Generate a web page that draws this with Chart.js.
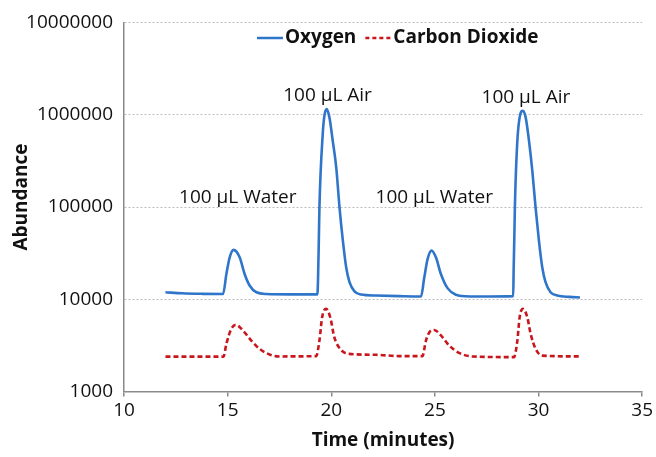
<!DOCTYPE html>
<html>
<head>
<meta charset="utf-8">
<script src="https://cdn.jsdelivr.net/npm/chart.js@4/dist/chart.umd.min.js"></script>
<style>
  html, body { margin: 0; padding: 0; background: #ffffff; }
  #wrap { width: 656px; height: 457px; }
</style>
</head>
<body>
<div id="wrap"><canvas id="c" width="656" height="457"></canvas></div>
<script>
// ---- Data ----
const oxygenTime = [12.0, 12.8, 13.8, 14.78, 14.94, 15.10, 15.29, 15.58, 15.82, 16.06, 16.39, 16.87, 18.0, 19.33, 19.36, 19.40, 19.43, 19.59, 19.67, 19.78, 19.91, 20.07, 20.24, 20.40, 20.56, 20.72, 20.88, 21.12, 21.44, 22.16, 23.28, 24.33, 24.49, 24.65, 24.84, 25.05, 25.29, 25.61, 26.01, 26.49, 27.6, 28.78, 28.80, 28.83, 28.86, 28.97, 29.09, 29.25, 29.38, 29.54, 29.70, 29.86, 30.02, 30.18, 30.34, 30.58, 30.90, 31.5, 32.0];
const oxygenAbundance = [11900, 11600, 11450, 11400, 18800, 28500, 34300, 28500, 18800, 14100, 11900, 11400, 11300, 11300, 15900, 43000, 100000, 624000, 977000, 1150000, 937000, 525000, 269000, 98000, 43200, 22200, 15300, 12200, 11250, 10970, 10800, 10700, 17300, 27400, 33700, 28500, 18800, 13200, 11200, 10780, 10700, 10800, 20600, 43000, 100000, 483000, 937000, 1107000, 937000, 525000, 248000, 98000, 43200, 22200, 15300, 11900, 11000, 10600, 10450];

const co2Time = [12.0, 13.5, 14.80, 14.94, 15.18, 15.39, 15.74, 16.14, 16.54, 17.02, 17.5, 19.27, 19.43, 19.56, 19.75, 19.95, 20.15, 20.47, 20.87, 22.16, 23.28, 24.40, 24.57, 24.81, 24.97, 25.29, 25.69, 26.17, 26.81, 28.82, 28.98, 29.09, 29.25, 29.46, 29.62, 29.86, 30.18, 32.0];
const co2Abundance = [2390, 2390, 2390, 3290, 4780, 5280, 4580, 3570, 2900, 2520, 2400, 2420, 3570, 6380, 7870, 6380, 3870, 2830, 2560, 2500, 2420, 2420, 3570, 4580, 4650, 4050, 3150, 2620, 2400, 2360, 3570, 6380, 7870, 6380, 4220, 2900, 2450, 2400];

const seriesNames = ["Oxygen", "Carbon Dioxide"];
const yTickValues = [1000, 10000, 100000, 1000000, 10000000];
const xTickValues = [10, 15, 20, 25, 30, 35];

const annotationTexts = ["100 \u00B5L Water", "100 \u00B5L Air", "100 \u00B5L Water", "100 \u00B5L Air"];
const annotationTime = [15.49, 19.82, 24.97, 29.39];
const annotationAbundance = [126000, 1610000, 126000, 1550000];

const xTitle = "Time (minutes)";
const yTitle = "Abundance";

// ---- Styles ----
const BLUE = '#2F75C9';
const RED = '#C8161D';
const AXIS = '#8a8a8a';
const GRID = '#bdbdbd';
const TEXT = '#111111';
const FONT = "'Open Sans', 'Liberation Sans', sans-serif";

function toPoints(xs, ys) { return xs.map((x, i) => ({ x: x, y: ys[i] })); }

const extrasPlugin = {
  id: 'extras',
  afterDraw(chart) {
    const ctx = chart.ctx;
    const xs = chart.scales.x, ys = chart.scales.y;
    ctx.save();
    // annotations
    ctx.fillStyle = TEXT;
    ctx.font = "19px " + FONT;
    ctx.textAlign = 'center';
    ctx.textBaseline = 'middle';
    annotationTexts.forEach((t, i) => {
      ctx.fillText(t, xs.getPixelForValue(annotationTime[i]), ys.getPixelForValue(annotationAbundance[i]));
    });
    // y axis title
    ctx.save();
    ctx.translate(22, 197);
    ctx.rotate(-Math.PI / 2);
    ctx.font = "bold 19px " + FONT;
    ctx.fillText(yTitle, 0, 0);
    ctx.restore();
    // legend
    const ly = 38;
    let lx = 257;
    ctx.font = "bold 19px " + FONT;
    ctx.textAlign = 'left';
    ctx.lineWidth = 2.5;
    ctx.strokeStyle = BLUE;
    ctx.setLineDash([]);
    ctx.beginPath(); ctx.moveTo(lx, ly); ctx.lineTo(lx + 26, ly); ctx.stroke();
    lx += 28;
    ctx.fillText(seriesNames[0], lx, ly);
    lx += ctx.measureText(seriesNames[0]).width + 9;
    ctx.strokeStyle = RED;
    ctx.setLineDash([4, 3]);
    ctx.beginPath(); ctx.moveTo(lx, ly); ctx.lineTo(lx + 27, ly); ctx.stroke();
    ctx.setLineDash([]);
    lx += 28;
    ctx.fillText(seriesNames[1], lx, ly);
    ctx.restore();
  }
};

new Chart(document.getElementById('c'), {
  type: 'scatter',
  data: {
    datasets: [
      {
        label: seriesNames[0],
        data: toPoints(oxygenTime, oxygenAbundance),
        showLine: true,
        borderColor: BLUE,
        backgroundColor: BLUE,
        borderWidth: 2.6,
        pointRadius: 0,
        cubicInterpolationMode: 'monotone'
      },
      {
        label: seriesNames[1],
        data: toPoints(co2Time, co2Abundance),
        showLine: true,
        borderColor: RED,
        backgroundColor: RED,
        borderWidth: 2.6,
        borderDash: [5, 3],
        pointRadius: 0,
        cubicInterpolationMode: 'monotone'
      }
    ]
  },
  options: {
    responsive: false,
    animation: false,
    devicePixelRatio: 1,
    layout: { padding: { left: 0, right: 12.5, top: 22.5, bottom: 0 } },
    plugins: { legend: { display: false }, tooltip: { enabled: false } },
    scales: {
      x: {
        type: 'linear',
        min: 10, max: 35,
        afterBuildTicks: (axis) => { axis.ticks = xTickValues.map(v => ({ value: v })); },
        afterFit: (s) => { s.height = 65.5; },
        grid: { drawOnChartArea: false, drawTicks: true, tickLength: 5, color: AXIS, lineWidth: 1.5 },
        border: { display: true, color: AXIS, width: 1.5 },
        ticks: { color: TEXT, font: { family: FONT, size: 19 }, padding: 3, maxRotation: 0 },
        title: { display: true, text: xTitle, color: TEXT, font: { family: FONT, size: 19, weight: 'bold' }, padding: { top: 0, bottom: 5 } }
      },
      y: {
        type: 'logarithmic',
        min: 1000, max: 10000000,
        afterBuildTicks: (axis) => { axis.ticks = yTickValues.map(v => ({ value: v })); },
        afterFit: (s) => { s.width = 124; },
        grid: { drawTicks: false, color: GRID, lineWidth: 1 },
        border: { display: true, color: AXIS, width: 1.5, dash: [2, 2] },
        ticks: { color: TEXT, font: { family: FONT, size: 19 }, padding: 11, callback: (v) => String(v) }
      }
    }
  },
  plugins: [extrasPlugin]
});
</script>
</body>
</html>
